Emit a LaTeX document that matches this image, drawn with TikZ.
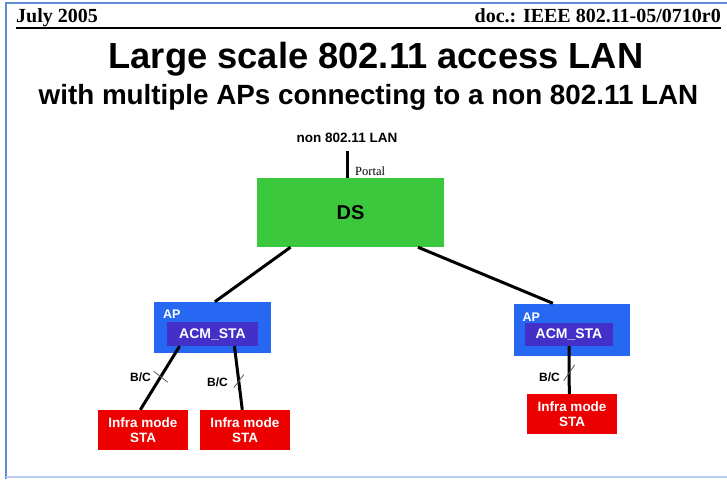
\documentclass[tikz,border=0pt]{standalone}
\usepackage{fontspec}
\setmainfont{Liberation Serif}
\newfontfamily\hv{Liberation Sans}
\usetikzlibrary{calc}
\definecolor{dsgreen}{RGB}{60,200,60}
\definecolor{apblue}{RGB}{38,104,242}
\definecolor{acmblue}{RGB}{66,48,200}
\definecolor{stared}{RGB}{236,0,0}
\definecolor{framelt}{RGB}{95,140,210}
\definecolor{framebt}{RGB}{185,205,238}
\newcommand{\fs}[2]{\fontsize{#1}{#2}\selectfont}
\tikzset{
  box/.style={draw=none, inner sep=0pt, text=white, font=\hv\bfseries},
  dsbox/.style={box, fill=dsgreen, text=black, minimum width=187pt, minimum height=69pt, font=\hv\bfseries\fs{20}{24}},
  apbox/.style={box, fill=apblue, minimum width=117pt, minimum height=51pt},
  acmbox/.style={box, fill=acmblue, minimum height=24pt, font=\hv\bfseries\fs{14}{16}},
  stabox/.style={box, fill=stared, minimum width=90pt, minimum height=40pt, align=center, font=\hv\bfseries\fs{13.5}{15}},
  aplabel/.style={anchor=base west, inner sep=0pt, text=white, font=\hv\bfseries\fs{12.5}{14}},
  bclabel/.style={anchor=east, inner sep=0pt, font=\hv\bfseries\fs{12}{14}},
  link/.style={line width=3pt, black},
  tick/.style={line width=0.8pt, black!65}
}
\begin{document}
\begin{tikzpicture}[x=1pt, y=-1pt]
  \useasboundingbox (0,0) rectangle (727,479);
  \fill[white] (0,0) rectangle (727,479);
  % slide frame
  \draw[framelt, line width=1.6pt] (6,479) -- (6,3) -- (727,3);
  \draw[framebt, line width=1.2pt] (6,477) -- (727,477);

  % header
  \node[anchor=base west, inner sep=0pt, font=\bfseries\fs{20}{22}] (date) at (16,22) {July 2005};
  \node[anchor=base east, inner sep=0pt, font=\bfseries\fs{20}{22}] (doc) at (721,22) {doc.: IEEE 802.11-05/0710r0};
  \draw[line width=1.3pt] (16,28) -- (721,28);

  % title
  \node[anchor=base, inner sep=0pt, font=\hv\bfseries\fs{36.3}{40}] (title) at (376,68) {Large scale 802.11 access LAN};
  \node[anchor=base, inner sep=0pt, font=\hv\bfseries\fs{27.8}{32}] (subtitle) at (368.5,104) {with multiple APs connecting to a non 802.11 LAN};

  % distribution system and portal
  \node[anchor=base, inner sep=0pt, font=\hv\bfseries\fs{13.5}{15}] (lan) at (347,142) {non 802.11 LAN};
  \node[dsbox] (ds) at (350.5,212.5) {DS};
  \coordinate (lanfoot) at (347,151);
  \draw[link] (lanfoot) -- (lanfoot |- ds.north);
  \node[anchor=base west, inner sep=0pt, font=\fs{12.5}{14}] (portal) at (355,175) {Portal};

  % access points
  \node[apbox] (ap1) at (212.5,327.5) {};
  \node[acmbox, minimum width=91pt] (acm1) at (212.5,334) {ACM\_STA};
  \node[aplabel] (ap1lbl) at ($(ap1.north west)+(9,17)$) {AP};

  \node[apbox, minimum width=116pt, minimum height=52pt] (ap2) at (571.5,329.5) {};
  \node[acmbox, minimum width=88pt, minimum height=23pt] (acm2) at (569,334.5) {ACM\_STA};
  \node[aplabel] (ap2lbl) at ($(ap2.north west)+(9,18)$) {AP};

  % stations
  \node[stabox] (sta1) at (143,430) {Infra mode\\STA};
  \node[stabox] (sta2) at (245,430) {Infra mode\\STA};
  \node[stabox] (sta3) at (572,414) {Infra mode\\STA};

  % DS to APs
  \draw[link] ($(ds.south west)!0.18!(ds.south east)$) -- ($(ap1.north west)!0.52!(ap1.north east)$);
  \draw[link] ($(ds.south west)!0.86!(ds.south east)$) -- ($(ap2.north west)!0.34!(ap2.north east)$);

  % APs to stations
  \draw[link] ($(acm1.south west)!0.14!(acm1.south east)$) -- ($(sta1.north west)!0.47!(sta1.north east)$)
    coordinate[pos=0.48] (m1);
  \draw[link] ($(acm1.south west)!0.74!(acm1.south east)$) -- ($(sta2.north west)!0.47!(sta2.north east)$)
    coordinate[pos=0.55] (m2);
  \draw[link] (acm2.south) -- ($(sta3.north west)!0.47!(sta3.north east)$)
    coordinate[pos=0.56] (m3);

  % B/C crossing marks
  \draw[tick] ($(m1)+(-7,-5.5)$) -- ($(m1)+(7,5.5)$);
  \draw[tick] ($(m2)+(-5,6.5)$) -- ($(m2)+(5,-6.5)$);
  \draw[tick] ($(m3)+(-5.5,8)$) -- ($(m3)+(5.5,-8)$);
  \node[bclabel] (bc1) at (151,377) {B/C};
  \node[bclabel] (bc2) at (228,382) {B/C};
  \node[bclabel] (bc3) at (560,377) {B/C};
\end{tikzpicture}
\end{document}
